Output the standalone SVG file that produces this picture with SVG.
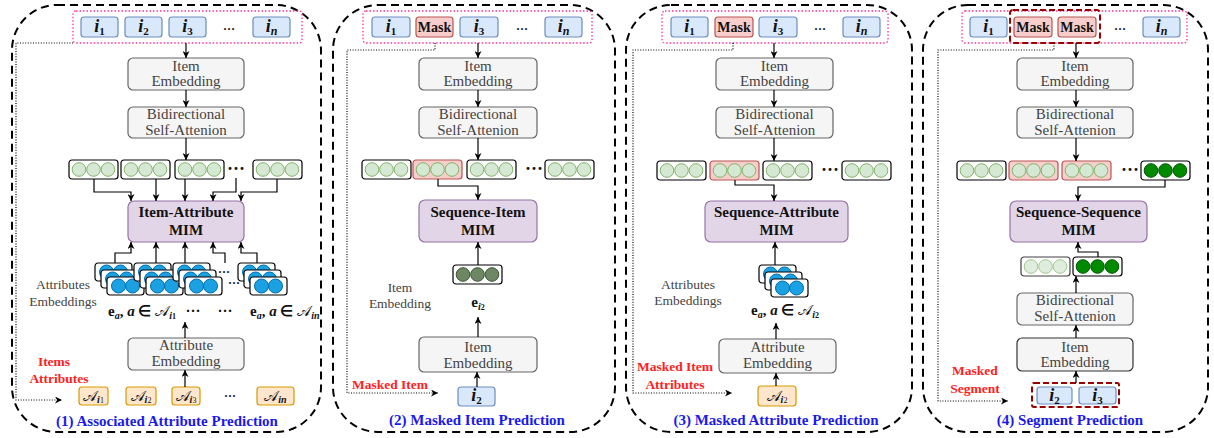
<svg xmlns="http://www.w3.org/2000/svg" width="1214" height="438" viewBox="0 0 1214 438">
<defs>
<style>
text{font-family:"Liberation Serif","Times New Roman",serif}
.pan{fill:none;stroke:#000;stroke-width:2;stroke-dasharray:8,5}
.pink{fill:none;stroke:#ff3399;stroke-width:1.3;stroke-dasharray:1.5,2}
.dr{fill:none;stroke:#990000;stroke-width:2;stroke-dasharray:6,3}
.ib{fill:#dae8fc;stroke:#6c8ebf;stroke-width:1.2}
.mk{fill:#f8cecc;stroke:#b85450;stroke-width:1.2}
.gb{fill:#f5f5f5;stroke:#666;stroke-width:1.2}
.gb2{fill:#f5f5f5;stroke:#333;stroke-width:1.2}
.mb{fill:#e1d5e7;stroke:#9673a6;stroke-width:1.2}
.ab{fill:#ffe6cc;stroke:#d79b00;stroke-width:1.2}
.vb{fill:#fff;stroke:#000;stroke-width:1.2}
.vr{fill:#f8cecc;stroke:#b85450;stroke-width:1.2}
.lg{fill:#d5e8d4;stroke:#82b366;stroke-width:1}
.dg{fill:#6d8764;stroke:#3a5431;stroke-width:1}
.g2{fill:#008a00;stroke:#005700;stroke-width:1}
.bc{fill:#1ba1e2;stroke:#006eaf;stroke-width:1}
.ar{fill:none;stroke:#000;stroke-width:1.2;marker-end:url(#ah)}
.dt{fill:none;stroke:#000;stroke-width:1.2;stroke-dasharray:1,1.6;marker-end:url(#ah)}
.gl{fill:#444;font-size:15px;text-anchor:middle}
.gs{fill:#444;font-size:13.5px;text-anchor:middle}
.mim{fill:#111;font-weight:bold;font-size:15px;text-anchor:middle}
.item{fill:#111;font-weight:bold;font-style:italic;font-size:18px;text-anchor:middle}
.mtx{fill:#111;font-weight:bold;font-size:14px;text-anchor:middle}
.sub{font-size:11px;font-style:normal}
.subi{font-size:12px;font-style:italic}
.red{fill:#f22;font-weight:bold;font-size:13.5px;text-anchor:middle}
.cap{fill:#1a1aee;font-weight:bold;font-size:15px;text-anchor:middle}
.dots{fill:#111;font-weight:bold;font-size:12px;text-anchor:middle}
.bdots{fill:#111;font-weight:bold;font-size:18px;text-anchor:middle}
.eq{fill:#111;font-weight:bold;font-size:15px}
.sc{font-family:"DejaVu Serif","DejaVu Sans","Noto Sans",serif;font-weight:normal;font-style:normal}
.si{font-size:10px;font-style:italic;font-weight:bold}
.s2{font-size:8px;font-style:normal}
.att{fill:#111;font-size:15px;text-anchor:middle}
</style>
<marker id="ah" viewBox="0 0 10 10" refX="10" refY="5" markerWidth="7" markerHeight="7" markerUnits="userSpaceOnUse" orient="auto"><path d="M0,0 L10,5 L0,10 L3,5 z" fill="#000"/></marker>
<g id="vw"><rect x="0" y="0" width="49" height="19" rx="3" class="vb"/><circle cx="10" cy="9.5" r="6.8" class="lg"/><circle cx="24.5" cy="9.5" r="6.8" class="lg"/><circle cx="39" cy="9.5" r="6.8" class="lg"/></g>
<g id="vrd"><rect x="0" y="0" width="49" height="19" rx="3" class="vr"/><circle cx="10" cy="9.5" r="6.8" class="lg"/><circle cx="24.5" cy="9.5" r="6.8" class="lg"/><circle cx="39" cy="9.5" r="6.8" class="lg"/></g>
<g id="vdg"><rect x="0" y="0" width="49" height="19" rx="3" class="vb"/><circle cx="10" cy="9.5" r="6.8" class="dg"/><circle cx="24.5" cy="9.5" r="6.8" class="dg"/><circle cx="39" cy="9.5" r="6.8" class="dg"/></g>
<g id="vg2"><rect x="0" y="0" width="49" height="19" rx="3" class="vb"/><circle cx="10" cy="9.5" r="6.8" class="g2"/><circle cx="24.5" cy="9.5" r="6.8" class="g2"/><circle cx="39" cy="9.5" r="6.8" class="g2"/></g>
<g id="card"><rect x="0" y="0" width="37" height="18" rx="3" class="vb"/><circle cx="11.5" cy="9" r="7" class="bc"/><circle cx="25.5" cy="9" r="7" class="bc"/></g>
<g id="stack"><use href="#card"/><use href="#card" x="6" y="7"/><use href="#card" x="12" y="14"/></g>
</defs>
<rect width="1214" height="438" fill="#fff"/>

<!-- ================= Panel 1 ================= -->
<g id="panel1">
<rect class="pan" x="12" y="5" width="309" height="427" rx="45"/>
<rect class="pink" x="73" y="11" width="229" height="32" rx="3"/>
<g id="p1-items">
<rect class="ib" x="81" y="17" width="37" height="20" rx="3"/><text class="item" x="99.5" y="32">i<tspan class="sub" dy="3">1</tspan></text>
<rect class="ib" x="125" y="17" width="37" height="20" rx="3"/><text class="item" x="143.5" y="32">i<tspan class="sub" dy="3">2</tspan></text>
<rect class="ib" x="169" y="17" width="37" height="20" rx="3"/><text class="item" x="187.5" y="32">i<tspan class="sub" dy="3">3</tspan></text>
<text class="dots" x="229" y="33">···</text>
<rect class="ib" x="253" y="17" width="37" height="20" rx="3"/><text class="item" x="271.5" y="32">i<tspan class="subi" dy="3">n</tspan></text>
</g>
<g id="p1-itememb"><rect class="gb" x="128" y="58" width="116" height="32" rx="5"/><text class="gl" x="186" y="71">Item</text><text class="gl" x="186" y="86">Embedding</text></g>
<g id="p1-bidi"><rect class="gb" x="128" y="107" width="116" height="31" rx="5"/><text class="gl" x="186" y="119">Bidirectional</text><text class="gl" x="186" y="135">Self-Attenion</text></g>
<g id="p1-vecs"><use href="#vw" x="69" y="160"/><use href="#vw" x="121" y="160"/><use href="#vw" x="175" y="160"/><text class="bdots" x="236" y="175">···</text><use href="#vw" x="253" y="160"/></g>
<g id="p1-mim"><rect class="mb" x="128" y="201" width="116" height="41" rx="6"/><text class="mim" x="186" y="217">Item-Attribute</text><text class="mim" x="186" y="235">MIM</text></g>
<g id="p1-attremb">
<use href="#stack" x="95" y="263"/><use href="#stack" x="134" y="263"/><use href="#stack" x="173" y="263"/>
<text class="dots" x="224" y="276" font-size="15">···</text><text class="dots" x="234" y="287" font-size="15">···</text>
<use href="#stack" x="238" y="263"/>
<text class="gs" x="63" y="289">Attributes</text><text class="gs" x="63" y="306">Embeddings</text>
<text class="eq" x="108" y="316">e<tspan class="si" dy="3">a</tspan><tspan dy="-3">, </tspan><tspan font-style="italic">a</tspan> ∈ <tspan class="sc">𝒜</tspan><tspan class="si" dy="3">i</tspan><tspan class="s2">1</tspan></text>
<text class="eq" x="193" y="316" text-anchor="middle">···</text><text class="eq" x="225" y="316" text-anchor="middle">···</text>
<text class="eq" x="250" y="316">e<tspan class="si" dy="3">a</tspan><tspan dy="-3">, </tspan><tspan font-style="italic">a</tspan> ∈ <tspan class="sc">𝒜</tspan><tspan class="si" dy="3">i</tspan><tspan class="si">n</tspan></text>
</g>
<g id="p1-attrbox"><rect class="gb" x="128" y="338" width="116" height="32" rx="5"/><text class="gl" x="186" y="350">Attribute</text><text class="gl" x="186" y="366">Embedding</text></g>
<g id="p1-attrs">
<rect class="ab" x="79" y="387" width="29" height="18" rx="3"/><text class="att" x="93.5" y="401"><tspan class="sc">𝒜</tspan><tspan class="si" dy="2">i</tspan><tspan class="s2">1</tspan></text>
<rect class="ab" x="126" y="387" width="30" height="18" rx="3"/><text class="att" x="141" y="401"><tspan class="sc">𝒜</tspan><tspan class="si" dy="2">i</tspan><tspan class="s2">2</tspan></text>
<rect class="ab" x="172" y="387" width="28" height="18" rx="3"/><text class="att" x="186" y="401"><tspan class="sc">𝒜</tspan><tspan class="si" dy="2">i</tspan><tspan class="s2">3</tspan></text>
<text class="dots" x="230" y="400">···</text>
<rect class="ab" x="257" y="387" width="37" height="18" rx="3"/><text class="att" x="275.5" y="401"><tspan class="sc">𝒜</tspan><tspan class="si" dy="2">in</tspan></text>
</g>
<text class="red" x="54" y="366">Items</text><text class="red" x="59" y="383">Attributes</text>
<text class="cap" x="167" y="426">(1) Associated Attribute Prediction</text>
</g>

<!-- ================= Panel 2 ================= -->
<g id="panel2">
<rect class="pan" x="333" y="5" width="282" height="427" rx="45"/>
<rect class="pink" x="363" y="11" width="229" height="32" rx="3"/>
<g id="p2-items">
<rect class="ib" x="372" y="17" width="38" height="20" rx="3"/><text class="item" x="391" y="32">i<tspan class="sub" dy="3">1</tspan></text>
<rect class="mk" x="416" y="17" width="37" height="20" rx="3"/><text class="mtx" x="434.5" y="32">Mask</text>
<rect class="ib" x="460" y="17" width="38" height="20" rx="3"/><text class="item" x="479" y="32">i<tspan class="sub" dy="3">3</tspan></text>
<text class="dots" x="522" y="33">···</text>
<rect class="ib" x="545" y="17" width="37" height="20" rx="3"/><text class="item" x="563.5" y="32">i<tspan class="subi" dy="3">n</tspan></text>
</g>
<g id="p2-itememb"><rect class="gb" x="419" y="58" width="118" height="32" rx="5"/><text class="gl" x="478" y="71">Item</text><text class="gl" x="478" y="86">Embedding</text></g>
<g id="p2-bidi"><rect class="gb" x="419" y="107" width="118" height="31" rx="5"/><text class="gl" x="478" y="119">Bidirectional</text><text class="gl" x="478" y="135">Self-Attenion</text></g>
<g id="p2-vecs"><use href="#vw" x="362" y="160"/><use href="#vrd" x="413" y="160"/><use href="#vw" x="467" y="160"/><text class="bdots" x="534" y="175">···</text><use href="#vw" x="545" y="160"/></g>
<g id="p2-mim"><rect class="mb" x="419" y="200" width="118" height="42" rx="6"/><text class="mim" x="478" y="217">Sequence-Item</text><text class="mim" x="478" y="235">MIM</text></g>
<g id="p2-ei2"><use href="#vdg" x="453" y="265"/><text class="eq" x="478" y="307" text-anchor="middle">e<tspan class="si" dy="3">i</tspan><tspan class="s2">2</tspan></text>
<text class="gs" x="400" y="292">Item</text><text class="gs" x="400" y="308">Embedding</text></g>
<g id="p2-itememb2"><rect class="gb" x="419" y="337" width="118" height="35" rx="5"/><text class="gl" x="478" y="352">Item</text><text class="gl" x="478" y="368">Embedding</text></g>
<g id="p2-i2"><rect class="ib" x="458" y="387" width="37" height="19" rx="3"/><text class="item" x="476.5" y="401">i<tspan class="sub" dy="3">2</tspan></text></g>
<text class="red" x="390" y="389">Masked Item</text>
<text class="cap" x="477" y="425">(2) Masked Item Prediction</text>
</g>

<!-- ================= Panel 3 ================= -->
<g id="panel3">
<rect class="pan" x="626" y="5" width="286" height="427" rx="45"/>
<rect class="pink" x="662" y="11" width="226" height="32" rx="3"/>
<g id="p3-items">
<rect class="ib" x="671" y="17" width="37" height="20" rx="3"/><text class="item" x="689.5" y="32">i<tspan class="sub" dy="3">1</tspan></text>
<rect class="mk" x="715" y="17" width="38" height="20" rx="3"/><text class="mtx" x="734" y="32">Mask</text>
<rect class="ib" x="759" y="17" width="38" height="20" rx="3"/><text class="item" x="778" y="32">i<tspan class="sub" dy="3">3</tspan></text>
<text class="dots" x="820" y="33">···</text>
<rect class="ib" x="843" y="17" width="37" height="20" rx="3"/><text class="item" x="861.5" y="32">i<tspan class="subi" dy="3">n</tspan></text>
</g>
<g id="p3-itememb"><rect class="gb" x="716" y="58" width="117" height="32" rx="5"/><text class="gl" x="774.5" y="71">Item</text><text class="gl" x="774.5" y="86">Embedding</text></g>
<g id="p3-bidi"><rect class="gb" x="716" y="107" width="117" height="31" rx="5"/><text class="gl" x="774.5" y="119">Bidirectional</text><text class="gl" x="774.5" y="135">Self-Attenion</text></g>
<g id="p3-vecs"><use href="#vw" x="657" y="161"/><use href="#vrd" x="710" y="161"/><use href="#vw" x="763" y="161"/><text class="bdots" x="830" y="176">···</text><use href="#vw" x="842" y="161"/></g>
<g id="p3-mim"><rect class="mb" x="705" y="201" width="143" height="41" rx="6"/><text class="mim" x="776.5" y="217">Sequence-Attribute</text><text class="mim" x="776.5" y="235">MIM</text></g>
<g id="p3-attremb"><use href="#stack" x="759" y="265"/>
<text class="gs" x="688" y="289">Attributes</text><text class="gs" x="688" y="305">Embeddings</text>
<text class="eq" x="785" y="315" text-anchor="middle">e<tspan class="si" dy="3">a</tspan><tspan dy="-3">, </tspan><tspan font-style="italic">a</tspan> ∈ <tspan class="sc">𝒜</tspan><tspan class="si" dy="3">i</tspan><tspan class="s2">2</tspan></text></g>
<g id="p3-attrbox"><rect class="gb" x="719" y="339" width="117" height="34" rx="5"/><text class="gl" x="777.5" y="352">Attribute</text><text class="gl" x="777.5" y="368">Embedding</text></g>
<g id="p3-ai2"><rect class="ab" x="758" y="386" width="38" height="20" rx="3"/><text class="att" x="777" y="401"><tspan class="sc">𝒜</tspan><tspan class="si" dy="2">i</tspan><tspan class="s2">2</tspan></text></g>
<text class="red" x="675" y="371">Masked Item</text><text class="red" x="675" y="389">Attributes</text>
<text class="cap" x="776" y="425">(3) Masked Attribute Prediction</text>
</g>

<!-- ================= Panel 4 ================= -->
<g id="panel4">
<rect class="pan" x="923" y="5" width="285" height="427" rx="45"/>
<rect class="pink" x="962" y="11" width="225" height="32" rx="3"/>
<g id="p4-items">
<rect class="ib" x="970" y="17" width="37" height="20" rx="3"/><text class="item" x="988.5" y="32">i<tspan class="sub" dy="3">1</tspan></text>
<rect class="mk" x="1014" y="17" width="38" height="20" rx="3"/><text class="mtx" x="1033" y="32">Mask</text>
<rect class="mk" x="1058" y="17" width="38" height="20" rx="3"/><text class="mtx" x="1077" y="32">Mask</text>
<text class="dots" x="1120" y="33">···</text>
<rect class="ib" x="1143" y="17" width="37" height="20" rx="3"/><text class="item" x="1161.5" y="32">i<tspan class="subi" dy="3">n</tspan></text>
<rect class="dr" x="1010" y="10" width="90" height="33" rx="3"/>
</g>
<g id="p4-itememb"><rect class="gb" x="1017" y="58" width="116" height="32" rx="5"/><text class="gl" x="1075" y="71">Item</text><text class="gl" x="1075" y="86">Embedding</text></g>
<g id="p4-bidi"><rect class="gb" x="1017" y="107" width="116" height="31" rx="5"/><text class="gl" x="1075" y="119">Bidirectional</text><text class="gl" x="1075" y="135">Self-Attenion</text></g>
<g id="p4-vecs"><use href="#vw" x="957" y="161"/><use href="#vrd" x="1009" y="161"/><use href="#vrd" x="1062" y="161"/><text class="bdots" x="1130" y="176">···</text><use href="#vg2" x="1141" y="161"/></g>
<g id="p4-mim"><rect class="mb" x="1010" y="201" width="137" height="41" rx="6"/><text class="mim" x="1078.5" y="217">Sequence-Sequence</text><text class="mim" x="1078.5" y="235">MIM</text></g>
<g id="p4-pair"><use href="#vw" x="1021" y="257" opacity="0.75"/><use href="#vg2" x="1073" y="257"/></g>
<g id="p4-bidi2"><rect class="gb" x="1017" y="293" width="116" height="32" rx="5"/><text class="gl" x="1075" y="305">Bidirectional</text><text class="gl" x="1075" y="321">Self-Attenion</text></g>
<g id="p4-itememb2"><rect class="gb2" x="1017" y="338" width="116" height="33" rx="5"/><text class="gl" x="1075" y="352">Item</text><text class="gl" x="1075" y="367">Embedding</text></g>
<g id="p4-seg">
<rect class="ib" x="1037" y="387" width="35" height="17" rx="3"/><text class="item" x="1054.5" y="401">i<tspan class="sub" dy="3">2</tspan></text>
<rect class="ib" x="1079" y="387" width="37" height="17" rx="3"/><text class="item" x="1097.5" y="401">i<tspan class="sub" dy="3">3</tspan></text>
<rect class="dr" x="1032" y="383" width="87" height="24" rx="2"/>
</g>
<text class="red" x="975" y="375">Masked</text><text class="red" x="975" y="393">Segment</text>
<text class="cap" x="1070" y="425">(4) Segment Prediction</text>
</g>

<!-- ================= Connectors ================= -->
<g id="connectors">
<path class="dt" d="M73,43 H16 V400 H62"/>
<path class="ar" d="M186,43 V58"/>
<path class="ar" d="M186,90 V107"/>
<path class="ar" d="M186,138 V160"/>
<path class="ar" d="M94,179 V192 H131 V201"/>
<path class="ar" d="M156,179 V201"/>
<path class="ar" d="M185,179 V201"/>
<path class="ar" d="M236,178 V192 H213 V201"/>
<path class="ar" d="M277,179 V192 H241 V201"/>
<path class="ar" d="M115,263 V253 H131 V242"/>
<path class="ar" d="M156,263 V242"/>
<path class="ar" d="M185,263 V242"/>
<path class="ar" d="M225,263 V253 H213 V242"/>
<path class="ar" d="M257,263 V253 H241 V242"/>
<path class="ar" d="M185,338 V322"/>
<path class="ar" d="M185,387 V370"/>

<path class="dt" d="M435,43 V50 H347 V393 H438"/>
<path class="ar" d="M478,43 V58"/>
<path class="ar" d="M478,90 V107"/>
<path class="ar" d="M478,138 V160"/>
<path class="ar" d="M438,179 V186 H478 V200"/>
<path class="ar" d="M478,265 V242"/>
<path class="ar" d="M478,337 V317"/>
<path class="ar" d="M477,387 V372"/>

<path class="dt" d="M733,43 V50 H633 V393 H732"/>
<path class="ar" d="M774,43 V58"/>
<path class="ar" d="M774,90 V107"/>
<path class="ar" d="M774,138 V161"/>
<path class="ar" d="M735,180 V185 H774 V201"/>
<path class="ar" d="M775,265 V242"/>
<path class="ar" d="M776,339 V323"/>
<path class="ar" d="M776,386 V373"/>

<path class="dt" d="M1054,43 V50 H938 V401 H1008"/>
<path class="ar" d="M1076,43 V58"/>
<path class="ar" d="M1076,90 V107"/>
<path class="ar" d="M1076,138 V161"/>
<path class="ar" d="M1165,180 V187 H1078 V201"/>
<path class="ar" d="M1098,257 V252 H1078 V242"/>
<path class="ar" d="M1076,293 V276"/>
<path class="ar" d="M1076,338 V325"/>
<path class="ar" d="M1076,383 V371"/>
</g>
</svg>
